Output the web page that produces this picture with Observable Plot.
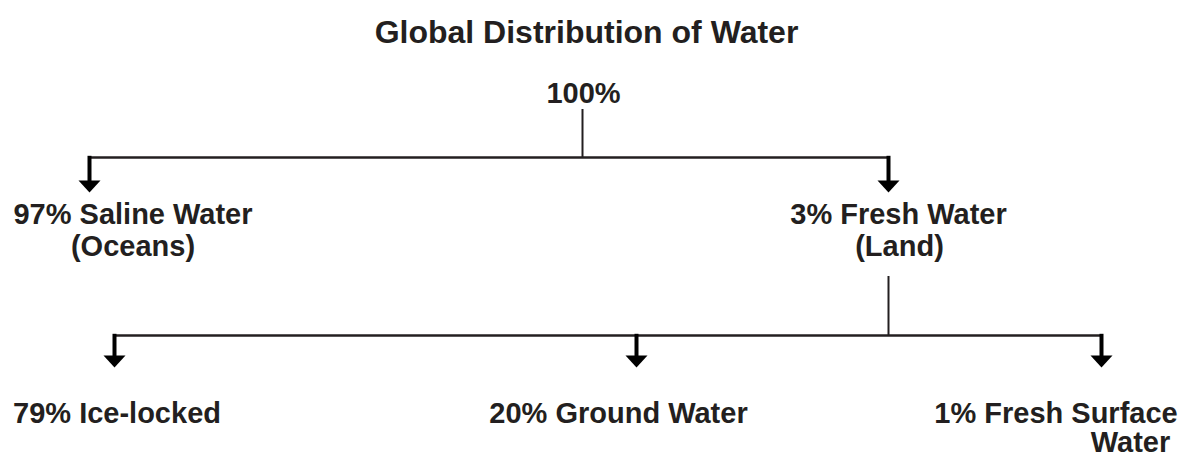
<!DOCTYPE html>
<html>
<head>
<meta charset="utf-8">
<script src="https://cdn.jsdelivr.net/npm/d3@7"></script>
<script src="https://cdn.jsdelivr.net/npm/@observablehq/plot@0.6"></script>
<style>
  body { margin: 0; background: #fff; }
  #title {
    font-family: "Liberation Sans", Arial, Helvetica, sans-serif;
    font-weight: bold; font-size: 32px; line-height: 36px;
    color: #231f20; text-align: center;
    height: 46px; padding-top: 14px; padding-right: 8px;
    box-sizing: content-box;
  }
</style>
</head>
<body>
<div id="title"></div>
<div id="chart"></div>
<script>
// ---- data ----
const chartTitle = "Global Distribution of Water";
const percents = [100, 97, 3, 79, 20, 1];
const names = ["", "Saline Water", "Fresh Water", "Ice-locked", "Ground Water", "Fresh Surface"];
const subNames = ["", "(Oceans)", "(Land)", "", "", "Water"];
const parents = [null, 0, 0, 2, 2, 2];

// ---- layout (diagram units = page pixels) ----
const anchorX = [582, 89, 888, 114, 636, 1101];        // connector positions
const labelX = [583, 132.5, 898, 116.5, 618, 1055.5];  // first label line centre
const subLabelX = [null, 132.5, 899, null, null, 1130]; // second label line centre
const depthBaseline = [102, 223, 422];
const depthLineGap = [32, 32, 29];
const depthBarY = [157, 335];
const depthTipY = [null, 192, 367];
const parentStemTop = {0: 109, 2: 276};

document.getElementById("title").textContent = chartTitle;

const depthOf = i => parents[i] === null ? 0 : 1 + depthOf(parents[i]);
const nodes = percents.map((p, i) => ({
  i, p, name: names[i], sub: subNames[i], parent: parents[i], depth: depthOf(i),
  ax: anchorX[i], lx: labelX[i], sx: subLabelX[i]
}));
nodes.forEach(n => {
  n.base = depthBaseline[n.depth];
  n.subBase = n.base + depthLineGap[n.depth];
  n.tip = depthTipY[n.depth];
  n.label = n.name ? `${n.p}% ${n.name}` : `${n.p}%`;
});
const children = nodes.filter(n => n.parent !== null);
const parentNodes = nodes.filter(n => children.some(c => c.parent === n.i)).map(n => {
  const kids = children.filter(c => c.parent === n.i);
  return {...n, barY: depthBarY[n.depth], stemTop: parentStemTop[n.i],
    x1: d3.min(kids, k => k.ax), x2: d3.max(kids, k => k.ax)};
});
children.forEach(c => { c.barY = depthBarY[c.depth - 1]; });
const subs = nodes.filter(n => n.sub);

const ink = "#231f20";
const headDown = {
  draw(context) {
    context.moveTo(-11, -12);
    context.lineTo(11, -12);
    context.lineTo(0, 0);
    context.closePath();
  }
};

const chart = Plot.plot({
  width: 1181, height: 397,
  marginTop: 0, marginBottom: 0, marginLeft: 0, marginRight: 0,
  x: {type: "linear", domain: [0, 1181], range: [0, 1181], axis: null},
  y: {type: "linear", domain: [60, 457], range: [0, 397], axis: null},
  style: {fontFamily: "'Liberation Sans', Arial, Helvetica, sans-serif", background: "#fff"},
  marks: [
    Plot.ruleX(parentNodes, {x: "ax", y1: "stemTop", y2: "barY", stroke: ink, strokeWidth: 2}),
    Plot.ruleY(parentNodes, {y: "barY", x1: "x1", x2: "x2", stroke: ink, strokeWidth: 2.5}),
    Plot.ruleX(children, {x: "ax", y1: d => d.barY - 1.2, y2: d => d.tip - 11, stroke: "#000", strokeWidth: 4}),
    Plot.dot(children, {x: "ax", y: "tip", symbol: headDown, r: 10, fill: "#000", stroke: null}),
    Plot.text(nodes, {x: "lx", y: "base", text: "label", lineAnchor: "bottom",
      fontSize: 29, fontWeight: "bold", fill: ink}),
    Plot.text(subs, {x: "sx", y: "subBase", text: "sub", lineAnchor: "bottom",
      fontSize: 29, fontWeight: "bold", fill: ink})
  ]
});
document.getElementById("chart").appendChild(chart);
</script>
</body>
</html>
